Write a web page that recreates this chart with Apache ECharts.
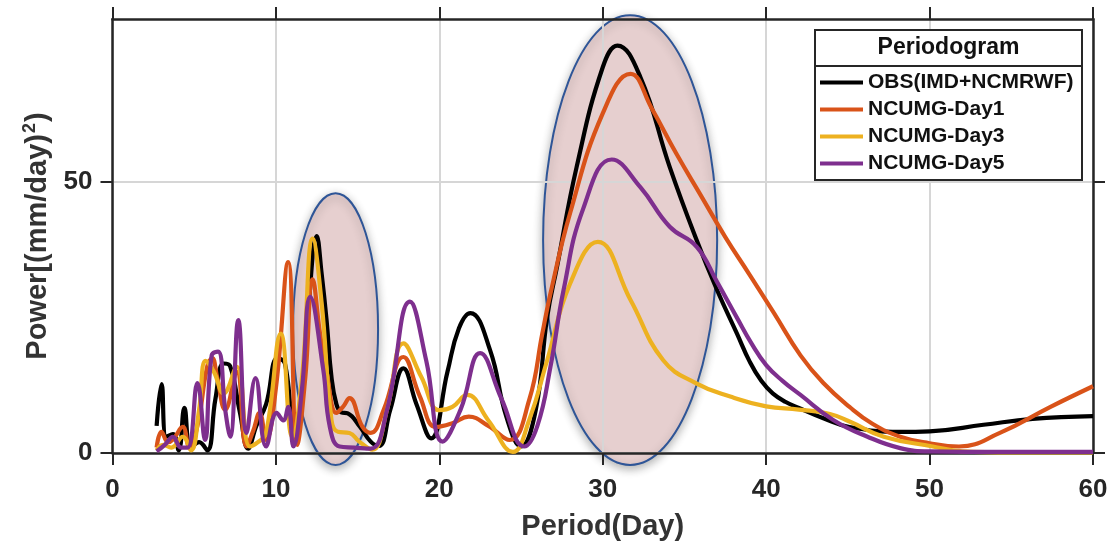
<!DOCTYPE html>
<html>
<head>
<meta charset="utf-8">
<script src="https://cdn.jsdelivr.net/npm/echarts@6/dist/echarts.min.js"></script>
<style>
  html, body { margin: 0; padding: 0; background: #fff; }
  #main { width: 1112px; height: 549px; }
</style>
</head>
<body>
<div id="main"></div>
<script>
(function(){
    'use strict';

    // period (day) / power values
    var obsPeriod = [2.7, 3.0, 3.3, 3.7, 4.05, 4.4, 4.8, 5.3, 5.8, 6.3, 6.8, 7.2, 7.8, 8.3, 8.8, 9.4, 10.1, 10.55, 11.15, 11.6, 12.0, 12.5, 12.8, 13.1, 13.4, 13.7, 14.0, 14.4, 15.15, 15.8, 16.3, 17.0, 17.8, 18.6, 19.5, 20.5, 21.2, 21.9, 23.1, 24.1, 25.0, 25.9, 26.6, 27.2, 28.4, 30.0, 30.9, 32.3, 34.1, 35.75, 37.0, 38.2, 39.0, 39.7, 40.4, 41.2, 42.0, 43.5, 45.1, 48.2, 50.0, 53.3, 56.3, 60];
    var obsPower  = [5, 12.7, 3, 3.5, 0.5, 8.3, 1, 2, 0.5, 10, 16.5, 16, 7.4, 0.8, 5, 9, 17.5, 16.5, 3.7, 10, 27, 40, 33, 24.5, 14, 9, 7.5, 7.3, 4.8, 2.1, 1.3, 8, 15.6, 9, 2.7, 15, 23, 25.8, 19, 6.7, 1.2, 7.9, 25.1, 34.3, 52.7, 71.1, 75.1, 69.3, 52.7, 39.2, 30, 22.1, 16.8, 13.3, 11.0, 9.4, 8.3, 6.4, 4.8, 3.9, 4.0, 5.2, 6.3, 6.8];

    var day1Period = [2.7, 3.0, 3.4, 3.7, 4.3, 4.7, 5.2, 5.8, 6.1, 6.4, 6.9, 7.6, 8.2, 8.6, 9.0, 9.4, 10.0, 10.75, 11.3, 11.8, 12.25, 12.7, 13.1, 13.7, 14.1, 14.5, 15.3, 15.8, 16.6, 17.8, 18.8, 19.8, 20.8, 21.8, 23.0, 24.3, 25.5, 26.3, 26.8, 28.0, 30.0, 31.7, 33.0, 34.5, 36.0, 37.5, 39.0, 40.5, 42.1, 43.5, 45.1, 46.5, 48.2, 50.0, 51.8, 54.3, 57.4, 60];
    var day1Power  = [1, 3.9, 2, 2.5, 4.8, 1.1, 5, 16, 17.5, 14, 8, 15, 1.2, 4, 7.4, 2.4, 12, 35.2, 1.5, 14, 32, 22, 15, 7.4, 8.5, 10.1, 4.8, 3.7, 8, 17.7, 10.5, 4.8, 5.5, 6.7, 5, 2.4, 9.8, 22, 29.4, 44.2, 62.6, 69.9, 63.5, 55.2, 47.5, 39.8, 32.8, 25.7, 18, 12.9, 8.5, 5.4, 3.0, 1.8, 1.2, 3.7, 8.5, 12.3];

    var day3Period = [2.7, 3.1, 3.6, 4.3, 4.8, 5.3, 5.7, 6.2, 6.8, 7.6, 8.4, 8.9, 9.4, 10.3, 11.0, 11.6, 12.25, 12.8, 13.4, 13.8, 14.5, 15.1, 15.9, 16.8, 17.8, 18.9, 20.0, 20.8, 21.7, 23.0, 24.5, 25.5, 26.6, 28.0, 29.7, 31.7, 33.7, 35.75, 37.8, 40.0, 42.0, 43.9, 45.1, 47.2, 50.2, 52, 55, 60];
    var day3Power  = [0.5, 1.5, 1, 3, 0.5, 8, 17, 15, 11, 15.9, 1.2, 2, 3.7, 22, 3, 14, 39.5, 27.6, 6.1, 3.9, 3.7, 2.1, 0.6, 8, 20.2, 14, 7.9, 8.5, 10.7, 6, 0.2, 6.1, 17.1, 31.2, 38.9, 28.2, 17.1, 12.8, 10.4, 8.6, 8.0, 7.2, 5.8, 3, 1.2, 0.3, 0.1, 0.1];

    var day5Period = [2.7, 3.2, 3.7, 4.2, 4.6, 5.2, 5.66, 6.07, 6.46, 6.9, 7.2, 7.7, 8.2, 8.75, 9.4, 10.05, 10.45, 10.75, 11.07, 11.6, 12.1, 12.9, 13.3, 13.9, 14.8, 15.8, 16.8, 18.2, 19.2, 20.2, 21.3, 22.5, 23.8, 25.2, 26.0, 26.8, 27.6, 28.8, 30.55, 32.3, 34.1, 35.75, 37.0, 38.2, 39.1, 40.0, 41.0, 42.1, 44.1, 46.2, 48.2, 50, 55, 60];
    var day5Power  = [0.3, 1.5, 3, 1, 1, 12.9, 2.4, 18, 18.7, 7.9, 3, 24.5, 3.7, 13.8, 1.2, 7.4, 6, 8.5, 1.2, 12, 28.8, 15.3, 4.8, 1.2, 1.0, 0.8, 8, 27.9, 17, 2.1, 8, 18.4, 10, 1.2, 5, 15.9, 30, 45, 54.1, 49, 41.7, 38, 31.5, 25, 20.2, 16.2, 13.3, 10.7, 6.1, 3, 0.9, 0.3, 0.2, 0.2];

    var seriesNames = ['OBS(IMD+NCMRWF)', 'NCUMG-Day1', 'NCUMG-Day3', 'NCUMG-Day5'];
    var seriesColors = ['#000000', '#D95319', '#EDB120', '#7E2F8E'];
    var xTicks = [0, 10, 20, 30, 40, 50, 60];
    var yTicks = [0, 50];
    // highlighted regions, in data units: [xMin, xMax, yMin, yMax]
    var highlights = [[11.05, 16.25, -2.2, 47.9], [26.35, 37.0, -2.2, 80.7]];

    function zip(xs, ys){
        var out = [];
        for (var i = 0; i < xs.length; i++) out.push([xs[i], ys[i]]);
        return out;
    }
    var allData = [zip(obsPeriod, obsPower), zip(day1Period, day1Power), zip(day3Period, day3Power), zip(day5Period, day5Power)];

    var FONT = "'Liberation Sans', Arial, Helvetica, sans-serif";
    var AX = '#262626';

    function axisBase(showLabel){
        return {
            type: 'value',
            axisLine: {show: true, onZero: false, lineStyle: {color: AX, width: 2.5}},
            axisTick: {show: true, inside: false, length: 12, lineStyle: {color: AX, width: 2}},
            axisLabel: {show: showLabel, fontFamily: FONT, fontWeight: 'bold', fontSize: 26, color: AX},
            splitLine: {show: false}
        };
    }

    var xBottom = axisBase(true);
    xBottom.position = 'bottom';
    xBottom.min = 0; xBottom.max = 60; xBottom.interval = 10;
    xBottom.axisLabel.margin = 24;
    xBottom.splitLine = {show: true, lineStyle: {color: '#d6d6d6', width: 2}};
    xBottom.name = 'Period(Day)';
    xBottom.nameLocation = 'middle';
    xBottom.nameGap = 59;
    xBottom.nameTextStyle = {fontFamily: FONT, fontWeight: 'bold', fontSize: 29, color: '#333'};
    xBottom.axisTick.customValues = xTicks;
    xBottom.axisLabel.customValues = xTicks;

    var xTop = axisBase(false);
    xTop.position = 'top';
    xTop.min = 0; xTop.max = 60; xTop.interval = 10;
    xTop.axisTick.customValues = xTicks;

    var yLeft = axisBase(true);
    yLeft.position = 'left';
    yLeft.min = 0; yLeft.max = 80; yLeft.interval = 50;
    yLeft.axisLabel.margin = 20;
    yLeft.axisLabel.customValues = yTicks;
    yLeft.axisTick.customValues = yTicks;
    yLeft.splitLine = {show: true, lineStyle: {color: '#d6d6d6', width: 2}};
    yLeft.name = '{a|Power[(mm/day)}{s|2}{a|)}';
    yLeft.nameLocation = 'middle';
    yLeft.nameGap = 54;
    yLeft.nameTextStyle = {
        fontFamily: FONT, fontWeight: 'bold', fontSize: 29, color: '#333',
        rich: {
            a: {fontFamily: FONT, fontWeight: 'bold', fontSize: 29, color: '#333', lineHeight: 34},
            s: {fontFamily: FONT, fontWeight: 'bold', fontSize: 18, color: '#333', lineHeight: 34, verticalAlign: 'top', padding: [0, 1, 12, 1]}
        }
    };

    var yRight = axisBase(false);
    yRight.position = 'right';
    yRight.min = 0; yRight.max = 80; yRight.interval = 50;
    yRight.axisTick.customValues = yTicks;

    var series = [];
    for (var i = 0; i < allData.length; i++){
        series.push({
            name: seriesNames[i],
            type: 'line',
            data: allData[i],
            smooth: 0.45,
            showSymbol: false,
            color: seriesColors[i],
            lineStyle: {width: 4.2, color: seriesColors[i]},
            z: 2
        });
    }

    var myChart = echarts.init(document.getElementById('main'));
    var option = {
        animation: false,
        backgroundColor: '#fff',
        grid: {left: 112.5, right: 19, top: 19, bottom: 96, containLabel: false},
        xAxis: [xBottom, xTop],
        yAxis: [yLeft, yRight],
        legend: {
            orient: 'vertical',
            left: 820,
            top: 72,
            padding: 0,
            itemWidth: 43,
            itemHeight: 4,
            itemGap: 6,
            icon: 'rect',
            data: seriesNames,
            textStyle: {fontFamily: FONT, fontWeight: 'bold', fontSize: 21, lineHeight: 21, color: '#111', padding: [0, 0, 0, 0]},
            z: 10
        },
        series: series
    };
    myChart.setOption(option);

    // highlight ellipses (under the grid lines) and legend frame
    var elements = [];
    highlights.forEach(function(h){
        var p0 = myChart.convertToPixel({xAxisIndex: 0, yAxisIndex: 0}, [h[0], h[3]]);
        var p1 = myChart.convertToPixel({xAxisIndex: 0, yAxisIndex: 0}, [h[1], h[2]]);
        elements.push({
            type: 'ellipse',
            z: -1,
            shape: {cx: (p0[0] + p1[0]) / 2, cy: (p0[1] + p1[1]) / 2, rx: (p1[0] - p0[0]) / 2, ry: (p1[1] - p0[1]) / 2},
            style: {
                fill: '#E6CFCF',
                stroke: '#2E5597',
                lineWidth: 2,
                shadowBlur: 10,
                shadowColor: 'rgba(0,0,0,0.3)',
                shadowOffsetY: 3
            }
        });
    });
    elements.push({
        type: 'rect', z: 8,
        shape: {x: 815, y: 30, width: 267, height: 150},
        style: {fill: '#fff', stroke: AX, lineWidth: 2}
    });
    elements.push({
        type: 'line', z: 8,
        shape: {x1: 815, y1: 66, x2: 1082, y2: 66},
        style: {stroke: AX, lineWidth: 2}
    });
    elements.push({
        type: 'text', z: 9,
        x: 948.5, y: 48,
        style: {text: 'Periodogram', fontFamily: FONT, fontWeight: 'bold', fontSize: 23, fill: '#111', align: 'center', verticalAlign: 'middle'}
    });
    myChart.setOption({graphic: {elements: elements}});
})();
</script>
</body>
</html>
